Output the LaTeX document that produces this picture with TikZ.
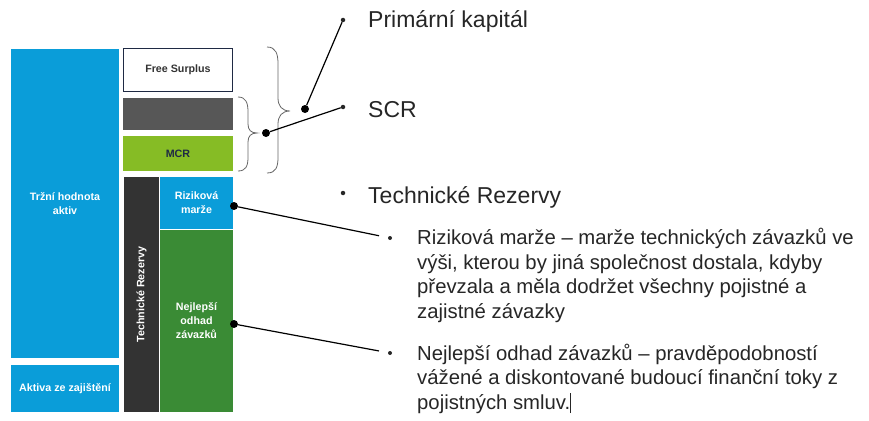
\documentclass[tikz,border=0pt]{standalone}
\usepackage{fontspec}
\setmainfont{Liberation Sans}
\definecolor{cblue}{HTML}{0A9DD9}
\definecolor{cgreen}{HTML}{86BC25}
\definecolor{cdgreen}{HTML}{3A8B35}
\definecolor{cgray}{HTML}{575757}
\definecolor{cdark}{HTML}{333333}
\definecolor{cnavy}{HTML}{1F2A44}
\definecolor{ctext}{HTML}{262626}
\tikzset{
  blk/.style={inner sep=0pt, outer sep=0pt, align=center, font=\fontsize{10.7}{14}\selectfont\bfseries},
  big/.style={inner sep=0pt, anchor=base west, text=ctext, font=\fontsize{23}{28}\selectfont},
  sub/.style={inner sep=0pt, anchor=base west, text=ctext, align=left, font=\fontsize{20.3}{24.4}\selectfont},
  bul/.style={circle, fill=ctext, inner sep=0pt, minimum size=4.5pt},
  jdot/.style={circle, fill=black, inner sep=0pt, minimum size=8pt},
  conn/.style={line width=1.2pt, black},
  brc/.style={line width=0.8pt, gray!80!black},
}
\begin{document}
\begin{tikzpicture}[x=1pt,y=-1pt]
\useasboundingbox (0,0) rectangle (869,420);
% left column
\node[blk, fill=cblue, text=white, minimum width=108, minimum height=309] (tha) at (65,203.5) {Tržní hodnota\\aktiv};
\node[blk, fill=cblue, text=white, minimum width=108, minimum height=47] (aze) at (65,388.5) {Aktiva ze zajištění};
% right column
\node[blk, fill=white, draw=cnavy, line width=1.2pt, text=cdark, minimum width=108.8, minimum height=42.8] (fs) at (178,70) {Free Surplus};
\node[blk, fill=cgray, minimum width=110, minimum height=32] (scrb) at (178,114) {};
\node[blk, fill=cgreen, text=cnavy, minimum width=110, minimum height=35] (mcr) at (178,153.5) {MCR};
\node[blk, fill=cdark, minimum width=35, minimum height=235] (tr) at (141.5,294.5) {};
\node[blk, text=white, rotate=90] (trl) at (tr.center) {Technické Rezervy};
\node[blk, fill=cblue, text=white, minimum width=73, minimum height=52] (rm) at (196.5,203) {Riziková\\marže};
\node[blk, fill=cdgreen, text=white, minimum width=73, minimum height=182] (bel) at (196.5,321) {Nejlepší\\odhad\\závazků};
% braces
\draw[brc] (238,97) .. controls (246,97) and (248,103) .. (248,112) -- (248,124)
  .. controls (248,130) and (251,133) .. (257,133)
  .. controls (251,133) and (248,136) .. (248,142) -- (248,157)
  .. controls (248,166) and (246,171) .. (238,171);
\draw[brc] (267,47) .. controls (276,47) and (278,54) .. (278,64) -- (278,98)
  .. controls (278,106) and (282,111) .. (290,111)
  .. controls (282,111) and (278,116) .. (278,124) -- (278,157)
  .. controls (278,167) and (276,173) .. (267,173);
% junction dots
\node[jdot] (j1) at (305,109) {};
\node[jdot] (j2) at (266,133) {};
\node[jdot] (j3) at (234,206) {};
\node[jdot] (j4) at (234,324) {};
% main bullets and text
\node[bul] (b1) at (343,20) {};
\node[bul] (b2) at (343,107) {};
\node[bul] (b3) at (343,193) {};
\node[big] (t1) at (368,28) {Primární kapitál};
\node[big] (t2) at (368,117) {SCR};
\node[big] (t3) at (368,203) {Technické Rezervy};
% sub bullets and text (base anchor = last line baseline)
\node[bul, minimum size=4pt] (s1) at (390,238) {};
\node[bul, minimum size=4pt] (s2) at (390,353) {};
\node[sub] (u1) at (417,318) {Riziková marže – marže technických závazků ve\\výši, kterou by jiná společnost dostala, kdyby\\převzala a měla dodržet všechny pojistné a\\zajistné závazky};
\node[sub] (u2) at (417,409) {Nejlepší odhad závazků – pravděpodobností\\vážené a diskontované budoucí finanční toky z\\pojistných smluv.\rule[-4pt]{0.7pt}{20pt}};
% connectors
\draw[conn] (j1) -- (b1);
\draw[conn] (j2) -- (b2);
\draw[conn, shorten >=9pt] (j3) -- (s1);
\draw[conn, shorten >=9pt] (j4) -- (s2);
\end{tikzpicture}
\end{document}
